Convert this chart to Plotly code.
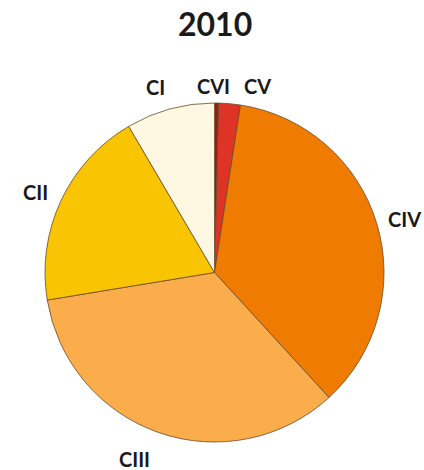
import plotly.graph_objects as go

# Share of each category in 2010 (%), clockwise from 12 o'clock
categories = ["CVI", "CV", "CIV", "CIII", "CII", "CI"]
shares = [0.4, 2.05, 35.75, 34.2, 19.15, 8.45]
slice_colors = ["#9c1b14", "#df3325", "#ef7b00", "#fbac4b", "#f9c402", "#fef8e2"]

W, H = 424, 470

fig = go.Figure(
    go.Pie(
        labels=categories,
        values=shares,
        sort=False,
        direction="clockwise",
        rotation=0,
        marker=dict(colors=slice_colors, line=dict(color="#6b4a2a", width=0.8)),
        textinfo="none",
        hoverinfo="label+percent",
        showlegend=False,
        domain=dict(x=[45 / W, 384 / W], y=[1 - 442 / H, 1 - 103 / H]),
    )
)

# Category labels placed around the pie (pixel positions in the 424x470 canvas)
label_px = {
    "CVI": (213, 86),
    "CV": (257, 86),
    "CIV": (404, 219),
    "CIII": (134, 459),
    "CII": (35, 192),
    "CI": (155, 87),
}
annotations = [
    dict(
        text=name,
        x=label_px[name][0] / W,
        y=1 - label_px[name][1] / H,
        xref="paper",
        yref="paper",
        showarrow=False,
        xanchor="center",
        yanchor="middle",
        font=dict(family="Lato", size=20, color="#1a1a1a", weight="bold"),
    )
    for name in categories
]
annotations.append(
    dict(
        text="2010",
        x=215 / W,
        y=1 - 23 / H,
        xref="paper",
        yref="paper",
        showarrow=False,
        xanchor="center",
        yanchor="middle",
        font=dict(family="Lato", size=32, color="#1a1a1a", weight="bold"),
    )
)

fig.update_layout(
    width=W,
    height=H,
    margin=dict(l=0, r=0, t=0, b=0),
    paper_bgcolor="white",
    plot_bgcolor="white",
    annotations=annotations,
)

fig.write_html("out.html")
